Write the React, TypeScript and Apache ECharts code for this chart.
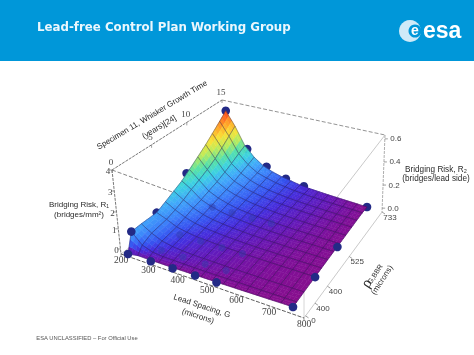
import React, { useEffect, useRef } from "react";
import * as echarts from "echarts";

// ---- chart values ----
const rowsP0 = [0, .02, .015, .012, .01, .008, .007, .006, .005, .004, .003, .002, .002, .001, .001, 0];
const rowsP1 = [.23, .1, .05, .035, .03, .025, .02, .017, .014, .012, .01, .008, .006, .004, .002, 0];
const rowsP2 = [.23, .15, .09, .06, .045, .035, .03, .025, .02, .017, .014, .011, .008, .006, .004, .002];
const rowsP3 = [.22, .17, .11, .08, .06, .05, .04, .032, .026, .02, .017, .013, .01, .008, .005, .003];
const rowsP4 = [.27, .2, .14, .1, .075, .06, .047, .038, .03, .024, .02, .016, .012, .009, .006, .004];
const rowsP5 = [.32, .24, .17, .12, .09, .07, .055, .045, .035, .028, .023, .018, .014, .01, .007, .004];
const rowsP6 = [.37, .29, .19, .14, .105, .08, .065, .05, .04, .032, .026, .02, .016, .012, .008, .005];
const rowsP7 = [.44, .33, .22, .16, .12, .09, .072, .058, .046, .037, .03, .023, .018, .014, .009, .005];
const rowsP8 = [.52, .38, .25, .18, .135, .105, .082, .066, .052, .042, .034, .027, .02, .015, .01, .005];
const rowsP9 = [.6, .44, .29, .2, .15, .115, .09, .072, .058, .046, .037, .03, .022, .017, .011, .006];
const rowsP10 = [.68, .51, .33, .23, .165, .125, .098, .078, .062, .05, .04, .032, .024, .018, .012, .006];
const rowsP11 = [.77, .59, .38, .26, .18, .14, .108, .085, .066, .053, .042, .034, .026, .019, .013, .006];
const rowsP12 = [.85, .66, .42, .29, .2, .15, .115, .09, .065, .05, .04, .03, .022, .015, .008, 0];
const surface = [rowsP0, rowsP1, rowsP2, rowsP3, rowsP4, rowsP5, rowsP6, rowsP7, rowsP8, rowsP9, rowsP10, rowsP11, rowsP12];
const pRowFractions = [0, .04, .12, .25, .33, .41, .49, .57, .66, .75, .83, .92, 1];

// measured points: [lead spacing fraction, pitch fraction, height]
const dotsBehind = [[.15, 1, .38], [.29, 1, .2], [.43, 1, .1], [.56, 1, .06], [1, 1, 0], [0, 1, .85], [0, .54, .42], [0, .25, .22]];
const dotsFront = [[0, 0, 0], [0, .04, .23], [.15, 0, 0], [.29, 0, 0], [.43, 0, 0], [.56, 0, 0], [1, 0, 0], [1, .25, 0], [1, .54, 0]];
const dotsUnder = [
  [.15, .25, .02], [.29, .25, .02], [.43, .25, .02], [.56, .25, .02],
  [.15, .57, .02], [.29, .57, .02], [.43, .57, .02], [.56, .57, .02],
  [.15, .09, .02], [.29, .09, .02], [.43, .09, .02], [.56, .09, .02],
];

const gTickLabels = ["200", "300", "400", "500", "600", "700", "800"];
const gTickFractions = [0, .15, .31, .47, .63, .81, 1];
const pTickLabels = ["0", "400", "400", "525", "733"];
const pTickFractions = [.02, .14, .3, .58, 1];
const r1TickLabels = ["0", "1", "2", "3", "4"];
const r1TickFractions = [.06, .3, .5, .75, 1];
const r2TickLabels = ["0.0", "0.2", "0.4", "0.6"];
const r2TickFractions = [.05, .35, .65, .95];
const timeTickLabels = ["0", "5", "10", "15"];
const timeTickFractions = [0, .36, .68, 1];

// ---- layout of the 3-D view ----
type P = [number, number];
const floorFL: P = [121, 254], floorFR: P = [304, 318], floorBR: P = [382, 212], floorBL: P = [227, 172];
const topFL: P = [112, 170], topFR: P = [304, 240], topBR: P = [385, 135], topBL: P = [222, 100];
const lerp = (a: P, b: P, t: number): P => [a[0] + (b[0] - a[0]) * t, a[1] + (b[1] - a[1]) * t];

function quad(p0: P, p1: P, p2: P, p3: P) {
  const dx1 = p1[0] - p2[0], dx2 = p3[0] - p2[0], sx = p0[0] - p1[0] + p2[0] - p3[0];
  const dy1 = p1[1] - p2[1], dy2 = p3[1] - p2[1], sy = p0[1] - p1[1] + p2[1] - p3[1];
  const den = dx1 * dy2 - dx2 * dy1;
  const g = (sx * dy2 - dx2 * sy) / den, h = (dx1 * sy - sx * dy1) / den;
  const a = p1[0] - p0[0] + g * p1[0], b = p3[0] - p0[0] + h * p3[0];
  const d = p1[1] - p0[1] + g * p1[1], e = p3[1] - p0[1] + h * p3[1];
  return (u: number, v: number): P => {
    const w = g * u + h * v + 1;
    return [(a * u + b * v + p0[0]) / w, (d * u + e * v + p0[1]) / w];
  };
}
const foot = quad([128, 254], [293, 307], [367, 207], [230, 172]);
const roof = quad([120, 174], [293, 227], [367, 127], [225, 100]);
const project = (u: number, v: number, z: number): P => lerp(foot(u, v), roof(u, v), z);

const colorStops: [number, number[]][] = [
  [0, [136, 14, 140]], [.012, [125, 16, 155]], [.03, [100, 25, 185]], [.06, [70, 45, 220]], [.1, [55, 85, 240]],
  [.16, [60, 130, 250]], [.24, [65, 170, 250]], [.33, [60, 210, 225]], [.42, [90, 225, 165]], [.52, [190, 235, 90]],
  [.62, [250, 225, 55]], [.72, [255, 160, 40]], [.85, [250, 60, 30]],
];
function colorOf(z: number) {
  for (let i = 1; i < colorStops.length; i++) {
    if (z <= colorStops[i][0]) {
      const [a, ca] = colorStops[i - 1], [b, cb] = colorStops[i];
      const t = (z - a) / (b - a);
      return `rgb(${ca.map((c, k) => Math.round(c + (cb[k] - c) * t)).join(",")})`;
    }
  }
  return "rgb(250,60,30)";
}

const cells: number[][] = [];
for (let r = surface.length - 2; r >= 0; r--) for (let c = 0; c < surface[0].length - 1; c++) cells.push([r, c]);

const SUB = 3;
function renderCell(_: any, api: any) {
  const r = api.value(0), c = api.value(1);
  const nc = surface[0].length - 1;
  const zAt = (a: number, b: number) => {
    const top = surface[r][c] * (1 - a) + surface[r][c + 1] * a;
    const bot = surface[r + 1][c] * (1 - a) + surface[r + 1][c + 1] * a;
    return top * (1 - b) + bot * b;
  };
  const pt = (a: number, b: number) => {
    const u = (c + a) / nc;
    const v = pRowFractions[r] + (pRowFractions[r + 1] - pRowFractions[r]) * b;
    return api.coord(project(u, v, zAt(a, b)));
  };
  const children: any[] = [];
  for (let i = 0; i < SUB; i++) for (let j = 0; j < SUB; j++) {
    const a0 = i / SUB, a1 = (i + 1) / SUB, b0 = j / SUB, b1 = (j + 1) / SUB;
    const col = colorOf(zAt((a0 + a1) / 2, (b0 + b1) / 2));
    children.push({
      type: "polygon", silent: true,
      shape: { points: [pt(a0, b0), pt(a1, b0), pt(a1, b1), pt(a0, b1)] },
      style: { fill: col, stroke: col, lineWidth: .5 },
    });
  }
  const outline: any[] = [];
  for (let k = 0; k <= SUB; k++) outline.push(pt(k / SUB, 0));
  for (let k = 1; k <= SUB; k++) outline.push(pt(1, k / SUB));
  for (let k = SUB - 1; k >= 0; k--) outline.push(pt(k / SUB, 1));
  for (let k = SUB - 1; k > 0; k--) outline.push(pt(0, k / SUB));
  children.push({
    type: "polygon", silent: true, shape: { points: outline },
    style: { fill: "none", stroke: "rgba(30,15,70,0.6)", lineWidth: .6 },
  });
  return { type: "group", children };
}

const dotSeries = (data: number[][], fill: string, opacity: number, radius: number) => ({
  type: "custom", silent: true, data, clip: false,
  renderItem: (_: any, api: any) => {
    const [x, y] = api.coord(project(api.value(0), api.value(1), api.value(2)));
    return { type: "circle", silent: true, shape: { cx: x, cy: y, r: radius }, style: { fill, opacity } };
  },
});

const edgeSeries = (a: P, b: P, dash: number[] | null, stroke: string) => ({
  type: "custom", silent: true, clip: false, data: [[0]],
  renderItem: (_: any, api: any) => {
    const s = api.coord(a), e = api.coord(b);
    return {
      type: "line", silent: true,
      shape: { x1: s[0], y1: s[1], x2: e[0], y2: e[1] },
      style: { stroke, lineWidth: .8, lineDash: dash || undefined },
    };
  },
});

const tickSeries = (labels: string[], fractions: number[], a: P, b: P, off: P, tick: P, font: string, color = "#444") => ({
  type: "custom", silent: true, clip: false, data: labels.map((_, i) => [i]),
  renderItem: (_: any, api: any) => {
    const i = api.value(0);
    const p = api.coord(lerp(a, b, fractions[i]));
    return {
      type: "group", silent: true,
      children: [
        { type: "line", silent: true, shape: { x1: p[0], y1: p[1], x2: p[0] + tick[0], y2: p[1] + tick[1] }, style: { stroke: "#777", lineWidth: .7 } },
        { type: "text", silent: true, x: p[0] + off[0], y: p[1] + off[1], style: { text: labels[i], font, fill: color, align: "center", verticalAlign: "middle" } },
      ],
    };
  },
});

const SANS = '"Liberation Sans", sans-serif';
const SERIF = '"Liberation Serif", serif';
const label = (text: string, x: number, y: number, size: number, rot = 0, fill = "#2b2b2b", family = SANS) => ({
  type: "text", x, y, rotation: rot, silent: true,
  style: { text, font: `${size}px ${family}`, fill, align: "center", verticalAlign: "middle" },
});

export default function App() {
  const ref = useRef<HTMLDivElement>(null);
  useEffect(() => {
    document.body.style.margin = "0";
    const chart = echarts.init(ref.current!, undefined, { renderer: "svg" });
    chart.setOption({
      animation: false,
      backgroundColor: "#ffffff",
      grid: { left: 0, right: 0, top: 0, bottom: 0 },
      xAxis: { type: "value", min: 0, max: 474, show: false },
      yAxis: { type: "value", min: 0, max: 355, inverse: true, show: false },
      graphic: [
        { type: "rect", silent: true, shape: { x: 0, y: 0, width: 474, height: 61 }, style: { fill: "#0097d9" } },
        { type: "text", x: 37, y: 27, silent: true, style: { text: "Lead-free Control Plan Working Group", font: 'bold 11.8px "DejaVu Sans"', fill: "#eaf7fd", align: "left", verticalAlign: "middle" } },
        { type: "circle", silent: true, shape: { cx: 410, cy: 31, r: 11 }, style: { fill: "#cfeaf8" } },
        { type: "circle", silent: true, shape: { cx: 415, cy: 31, r: 6.5 }, style: { fill: "#0097d9" } },
        { type: "text", x: 415, y: 30, silent: true, style: { text: "e", font: 'bold 14px "Liberation Sans"', fill: "#ffffff", align: "center", verticalAlign: "middle" } },
        { type: "text", x: 423, y: 30, silent: true, style: { text: "esa", font: 'bold 23px "Liberation Sans"', fill: "#ffffff", align: "left", verticalAlign: "middle" } },
        label("Specimen 11, Whisker Growth Time", 152, 115, 8, 0.54 ),
        label("(years)[24]", 159, 127, 8, 0.54),
        label("Bridging Risk, R\u2081", 79, 204, 8),
        label("(bridges/mm\u00b2)", 79, 214, 8),
        label("Bridging Risk, R\u2082", 436, 169, 8.2),
        label("(bridges/lead side)", 436, 178, 8.2),
        label("Lead Spacing, G", 202, 306, 8, -0.32),
        label("(microns)", 198, 316, 8, -0.32),
        label("\u03c1", 366, 283, 15, 1.0, "#2b2b2b", SERIF),
        label("G,BBR", 375, 274, 7, 1.0),
        label("(microns)", 382, 280, 8, 1.0),
        label("ESA UNCLASSIFIED \u2013 For Official Use", 87, 338, 5.8, 0, "#555"),
      ],
      series: [
        edgeSeries(topFL, topBL, [3, 1], "#555"),
        edgeSeries(topBL, topBR, [4, 2], "#777"),
        edgeSeries(topBR, floorBR, [3, 1], "#999"),
        edgeSeries(topBR, topFR, null, "#bbb"),
        edgeSeries(topFR, floorFR, null, "#ccc"),
        edgeSeries(floorFR, floorBR, null, "#bbb"),
        edgeSeries(floorFL, floorBL, null, "#bbb"),
        edgeSeries(topFL, floorFL, [3, 1], "#555"),
        edgeSeries(topFL, topFR, [4, 2], "#666"),
        edgeSeries(floorFL, floorFR, [4, 1.5], "#333"),
        tickSeries(gTickLabels, gTickFractions, floorFL, floorFR, [0, 6], [0, 2], `9.5px ${SERIF}`),
        tickSeries(pTickLabels, pTickFractions, floorFR, floorBR, [8, 5], [3, 2], `8px ${SANS}`),
        tickSeries(r1TickLabels, r1TickFractions, floorFL, topFL, [-4, 1], [-3, 0], `9px ${SERIF}`),
        tickSeries(r2TickLabels, r2TickFractions, floorBR, topBR, [11, 0], [3, 0], `8px ${SANS}`),
        tickSeries(timeTickLabels, timeTickFractions, topFL, topBL, [-1, -8], [0, 3], `9px ${SERIF}`),
        dotSeries(dotsBehind, "#232a86", 1, 4.3),
        { type: "custom", silent: true, clip: false, data: cells, renderItem: renderCell },
        dotSeries(dotsUnder, "#2f3ba8", 0.45, 3.6),
        dotSeries(dotsFront, "#232a86", 1, 4.3),
      ],
    });
    return () => chart.dispose();
  }, []);
  return <div ref={ref} style={{ width: 474, height: 355, filter: "blur(0.35px)" }} />;
}
